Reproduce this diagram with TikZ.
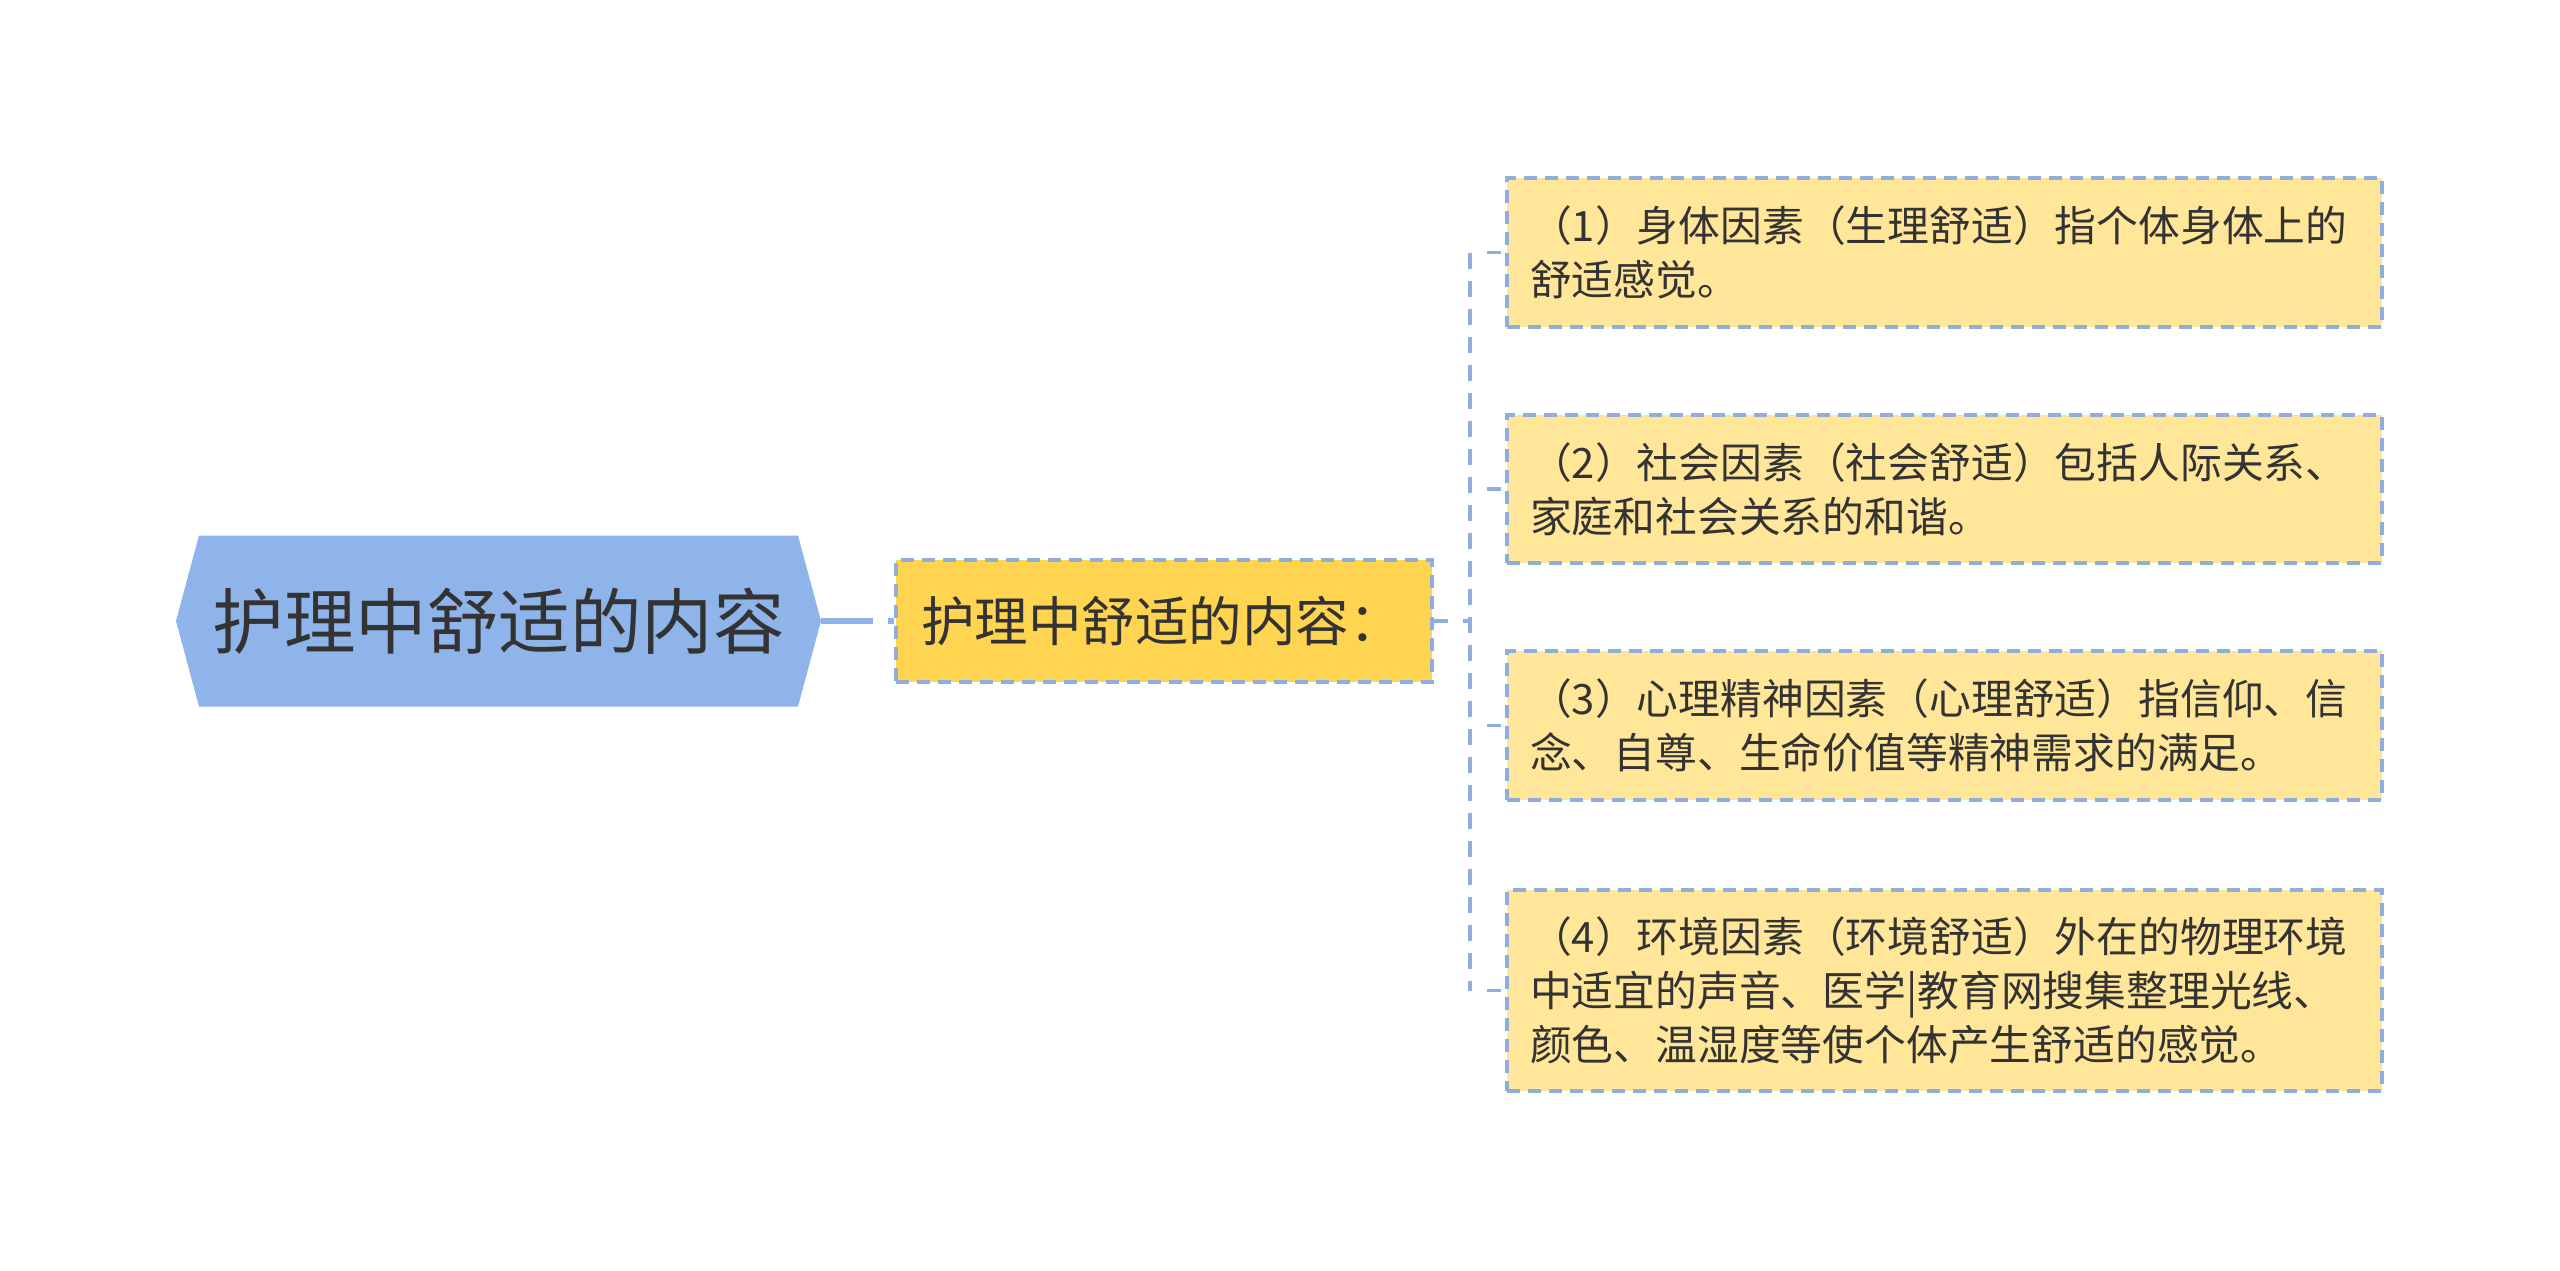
\documentclass[tikz,border=0pt]{standalone}
\usepackage{fontspec}
\setmainfont{Noto Sans CJK SC}
\definecolor{rootblue}{HTML}{8EB4EA}
\definecolor{dashblue}{HTML}{8FADDD}
\definecolor{midfill}{HTML}{FFD451}
\definecolor{leaffill}{HTML}{FFE699}
\definecolor{txt}{HTML}{333333}
\tikzset{
  rootnode/.style={minimum width=645pt, minimum height=171pt, inner sep=0pt, text=txt,
    font=\fontsize{71.5pt}{86pt}\selectfont,
    path picture={\fill[rootblue]
      (path picture bounding box.west) --
      ([xshift=23pt]path picture bounding box.north west) --
      ([xshift=-23pt]path picture bounding box.north east) --
      (path picture bounding box.east) --
      ([xshift=-23pt]path picture bounding box.south east) --
      ([xshift=23pt]path picture bounding box.south west) -- cycle;}},
  midnode/.style={fill=midfill, draw=dashblue, line width=3.5pt, dash pattern=on 13pt off 8pt,
    minimum width=536pt, minimum height=122pt, text width=486pt, inner xsep=25pt,
    align=left, text=txt, font=\fontsize{53.5pt}{64pt}\selectfont},
  leafnode/.style={fill=leaffill, draw=dashblue, line width=3.5pt, dash pattern=on 13pt off 8pt,
    text width=829pt, inner xsep=23pt, inner ysep=0pt, align=left, text=txt,
    font=\fontsize{41.8pt}{54pt}\selectfont},
  rootlink/.style={draw=rootblue, line width=6pt, dash pattern=on 52pt off 15pt on 10pt off 0pt},
  blink/.style={draw=dashblue, line width=3.5pt, dash pattern=on 14pt off 15pt on 9pt off 0pt},
  vlink/.style={draw=dashblue, line width=3.5pt, dash pattern=on 16pt off 12pt},
  stub/.style={draw=dashblue, line width=3.5pt, dash pattern=on 0pt off 17pt on 14pt off 10pt},
}
\begin{document}
\begin{tikzpicture}[x=1pt,y=-1pt]
\useasboundingbox (0,0) rectangle (2560,1271);
\node[rootnode] (root) at (498.5,621) {护理中舒适的内容};
\node[midnode] (mid) at (1164,621) {护理中舒适的内容：};
\node[leafnode, minimum height=149pt] (b1) at (1944.5,252.5)
  {（1）身体因素（生理舒适）指个体身体上的\\舒适感觉。};
\node[leafnode, minimum height=148pt] (b2) at (1944.5,489)
  {（2）社会因素（社会舒适）包括人际关系、\\家庭和社会关系的和谐。};
\node[leafnode, minimum height=149pt] (b3) at (1944.5,725.5)
  {（3）心理精神因素（心理舒适）指信仰、信\\念、自尊、生命价值等精神需求的满足。};
\node[leafnode, minimum height=201pt] (b4) at (1944.5,990.5)
  {（4）环境因素（环境舒适）外在的物理环境\\中适宜的声音、医学|教育网搜集整理光线、\\颜色、温湿度等使个体产生舒适的感觉。};
\coordinate (j) at (1470,621);
\draw[rootlink] (root.east) -- (mid.west);
\draw[blink] (mid.east) -- (j);
\draw[vlink] (j |- b1.west) -- (j |- b4.west);
\draw[stub] (j |- b1.west) -- (b1.west);
\draw[stub] (j |- b2.west) -- (b2.west);
\draw[stub] (j |- b3.west) -- (b3.west);
\draw[stub] (j |- b4.west) -- (b4.west);
\end{tikzpicture}
\end{document}
